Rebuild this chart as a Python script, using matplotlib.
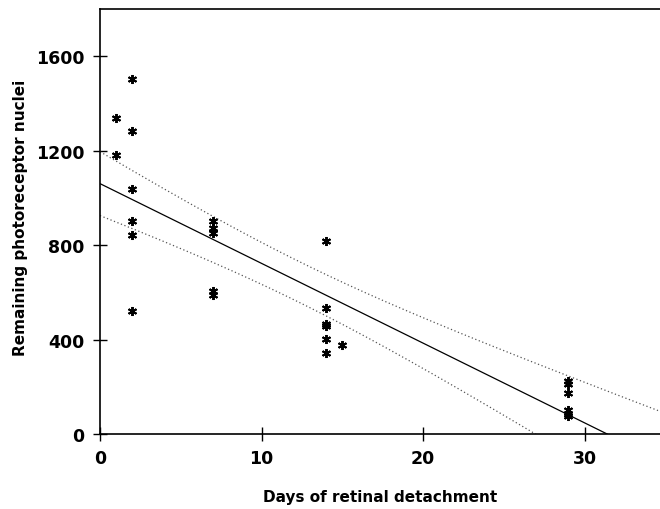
import numpy as np
import matplotlib
matplotlib.use("Agg")
import matplotlib.pyplot as plt

plt.rcParams['font.family'] = ['DejaVu Sans']

# days of detachment and remaining nuclei
days = [1, 1,
        2, 2, 2, 2, 2, 2,
        7, 7, 7, 7, 7,
        14, 14, 14, 14, 14, 14,
        15,
        29, 29, 29, 29, 29, 29]
nuclei = [1339, 1182,
          1504, 1284, 1037, 902, 844, 523,
          904, 871, 852, 604, 591,
          818, 535, 467, 456, 403, 343,
          377,
          225, 210, 175, 100, 85, 75]

x = np.array(days, dtype=float)
y = np.array(nuclei, dtype=float)
n = len(x)

# least squares fit with 95% confidence band of the mean
slope, icpt = np.polyfit(x, y, 1)
resid = y - (icpt + slope * x)
s = np.sqrt(np.sum(resid ** 2) / (n - 2))
sxx = np.sum((x - x.mean()) ** 2)
t = 2.064

xs = np.linspace(0, 40, 400)
fit = icpt + slope * xs
half = t * s * np.sqrt(1.0 / n + (xs - x.mean()) ** 2 / sxx)

fig = plt.figure(figsize=(6.6, 5.1), dpi=100)
ax = fig.add_axes([0.1515, 0.147, 0.8485, 0.833])

ax.plot(xs, fit, color='black', lw=0.9)
ax.plot(xs, fit + half, color='#555555', lw=0.9, ls=(0, (1, 2)))
ax.plot(xs, fit - half, color='#555555', lw=0.9, ls=(0, (1, 2)))
ax.plot(x, y, ls='none', marker=(6, 2, 0), ms=6.5, mew=1.4, color='black')

ax.set_xlim(0, 34.67)
ax.set_ylim(0, 1800)
ax.set_xticks([0, 10, 20, 30])
ax.set_yticks([0, 400, 800, 1200, 1600])
ax.spines['right'].set_visible(False)
for sp in ['left', 'bottom', 'top']:
    ax.spines[sp].set_linewidth(1.2)
ax.tick_params(direction='inout', length=10, width=1, labelsize=12.5, pad=6)
for lab in ax.get_xticklabels() + ax.get_yticklabels():
    lab.set_fontweight('bold')

ax.set_xlabel('Days of retinal detachment', fontsize=11, fontweight='bold')
ax.set_ylabel('Remaining photoreceptor nuclei', fontsize=11, fontweight='bold')
ax.xaxis.set_label_coords(0.5, -0.13)
ax.yaxis.set_label_coords(-0.129, 0.51)

fig.savefig('out.png', dpi=100)
